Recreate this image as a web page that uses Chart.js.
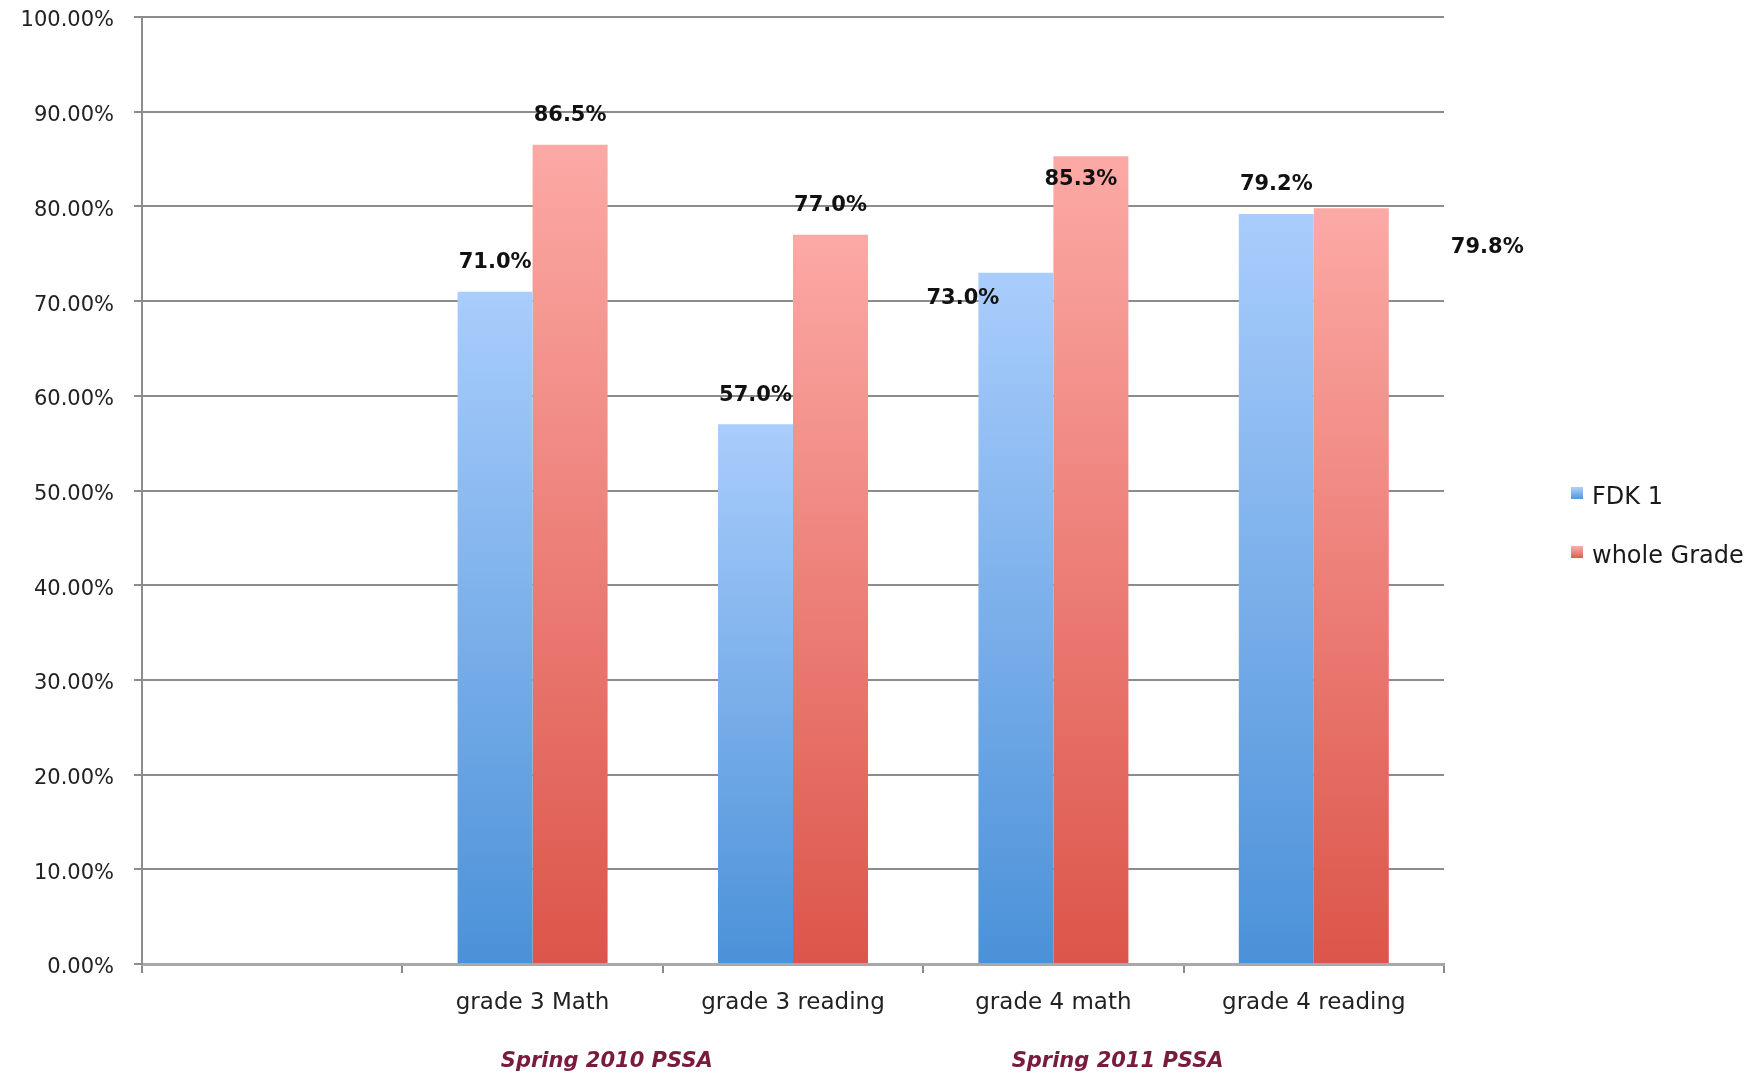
<!DOCTYPE html>
<html>
<head>
<meta charset="utf-8">
<script src="https://cdn.jsdelivr.net/npm/chart.js@4"></script>
<style>
html,body{margin:0;padding:0;background:#fff;}
#wrap{position:relative;width:1764px;height:1079px;}
</style>
</head>
<body>
<div id="wrap"><canvas id="c" width="1764" height="1079"></canvas></div>
<script>
// ---- data ----
const categories = ['', 'grade 3 Math', 'grade 3 reading', 'grade 4 math', 'grade 4 reading'];
const seriesNames = ['FDK 1', 'whole Grade'];
const fdk1Values = [null, 71.0, 57.0, 73.0, 79.2];
const wholeGradeValues = [null, 86.5, 77.0, 85.3, 79.8];
const groupLabels = ['Spring 2010 PSSA', 'Spring 2011 PSSA'];
const yTicks = [0, 10, 20, 30, 40, 50, 60, 70, 80, 90, 100];

// ---- label placement (pixel offsets from default spot above bar) ----
const fdk1LabelOffsets = [[0,0],[0,0],[0,0],[-53,55],[0,0]];
const wholeLabelOffsets = [[0,0],[0,0],[0,0],[-10,52],[136,68]];

const FONT = '"DejaVu Sans", sans-serif';
const blueStops = ['#a9cdfc', '#4b91d8'];
const redStops = ['#fca9a5', '#dc554a'];

function gradFill(stops){
  return function(ctx){
    const chart = ctx.chart;
    const area = chart.chartArea;
    if (!area || ctx.type !== 'data' || ctx.raw == null) return stops[1];
    const y = chart.scales.y;
    const top = y.getPixelForValue(ctx.raw);
    const bot = y.getPixelForValue(0);
    const g = chart.ctx.createLinearGradient(0, top, 0, bot);
    g.addColorStop(0, stops[0]);
    g.addColorStop(1, stops[1]);
    return g;
  };
}

const labelPlugin = {
  id: 'valueLabels',
  afterDatasetsDraw(chart){
    const ctx = chart.ctx;
    const offs = [fdk1LabelOffsets, wholeLabelOffsets];
    ctx.save();
    ctx.font = 'bold 21px ' + FONT;
    ctx.fillStyle = '#111';
    ctx.textAlign = 'center';
    ctx.textBaseline = 'middle';
    chart.data.datasets.forEach((ds, di) => {
      const meta = chart.getDatasetMeta(di);
      meta.data.forEach((bar, i) => {
        const v = ds.data[i];
        if (v == null) return;
        const o = offs[di][i];
        ctx.fillText(v.toFixed(1) + '%', bar.x + o[0], bar.y - 29 + o[1]);
      });
    });
    ctx.restore();
  }
};

const extrasPlugin = {
  id: 'extras',
  afterDraw(chart){
    const ctx = chart.ctx;
    const x = chart.scales.x;
    ctx.save();
    // group labels under pairs of categories
    ctx.font = 'italic bold 21px ' + FONT;
    ctx.fillStyle = '#7a1a3c';
    ctx.textAlign = 'center';
    ctx.textBaseline = 'middle';
    const c1 = (x.getPixelForValue(1) + x.getPixelForValue(2)) / 2;
    const c2 = (x.getPixelForValue(3) + x.getPixelForValue(4)) / 2;
    ctx.fillText(groupLabels[0], c1 - 56, 1062);
    ctx.fillText(groupLabels[1], c2 - 66, 1062);
    // legend
    const colors = [blueStops, redStops];
    ctx.font = '24px ' + FONT;
    ctx.textAlign = 'left';
    seriesNames.forEach((n, i) => {
      const yy = 498 + i * 59;
      const g = ctx.createLinearGradient(0, yy - 10, 0, yy + 2);
      g.addColorStop(0, colors[i][0]);
      g.addColorStop(1, colors[i][1]);
      ctx.fillStyle = g;
      ctx.fillRect(1571, yy - 11, 12, 12);
      ctx.fillStyle = '#1a1a1a';
      ctx.fillText(n, 1592, yy);
    });
    ctx.restore();
  }
};

new Chart(document.getElementById('c'), {
  type: 'bar',
  data: {
    labels: categories,
    datasets: [
      { label: seriesNames[0], data: fdk1Values, backgroundColor: gradFill(blueStops), borderWidth: 0 },
      { label: seriesNames[1], data: wholeGradeValues, backgroundColor: gradFill(redStops), borderWidth: 0 }
    ]
  },
  options: {
    responsive: false,
    animation: false,
    devicePixelRatio: 1,
    layout: { padding: { top: 17, right: 320, bottom: 0, left: 0 } },
    plugins: { legend: { display: false }, tooltip: { enabled: false } },
    datasets: { bar: { categoryPercentage: 0.576, barPercentage: 1.0 } },
    scales: {
      x: {
        afterFit(s){ s.height = 115; s.paddingLeft = 0; s.paddingRight = 0; },
        grid: { display: true, drawOnChartArea: false, drawTicks: true, tickLength: 9, color: '#8a8a8a', lineWidth: 2, offset: true },
        border: { display: true, color: '#a8a8a8', width: 3 },
        ticks: { font: { family: FONT, size: 23 }, color: '#222', padding: 16, maxRotation: 0, autoSkip: false }
      },
      y: {
        min: 0, max: 100,
        afterFit(s){ s.width = 142; s.paddingTop = 0; s.paddingBottom = 0; },
        afterBuildTicks(s){ s.ticks = yTicks.map(v => ({ value: v })); },
        grid: { color: '#8c8c8c', lineWidth: 2, tickLength: 8, drawTicks: true },
        border: { display: true, color: '#8c8c8c', width: 2 },
        ticks: {
          font: { family: FONT, size: 21 }, color: '#222', padding: 20, labelOffset: 4,
          callback: v => v.toFixed(2) + '%'
        }
      }
    }
  },
  plugins: [labelPlugin, extrasPlugin]
});
</script>
</body>
</html>
